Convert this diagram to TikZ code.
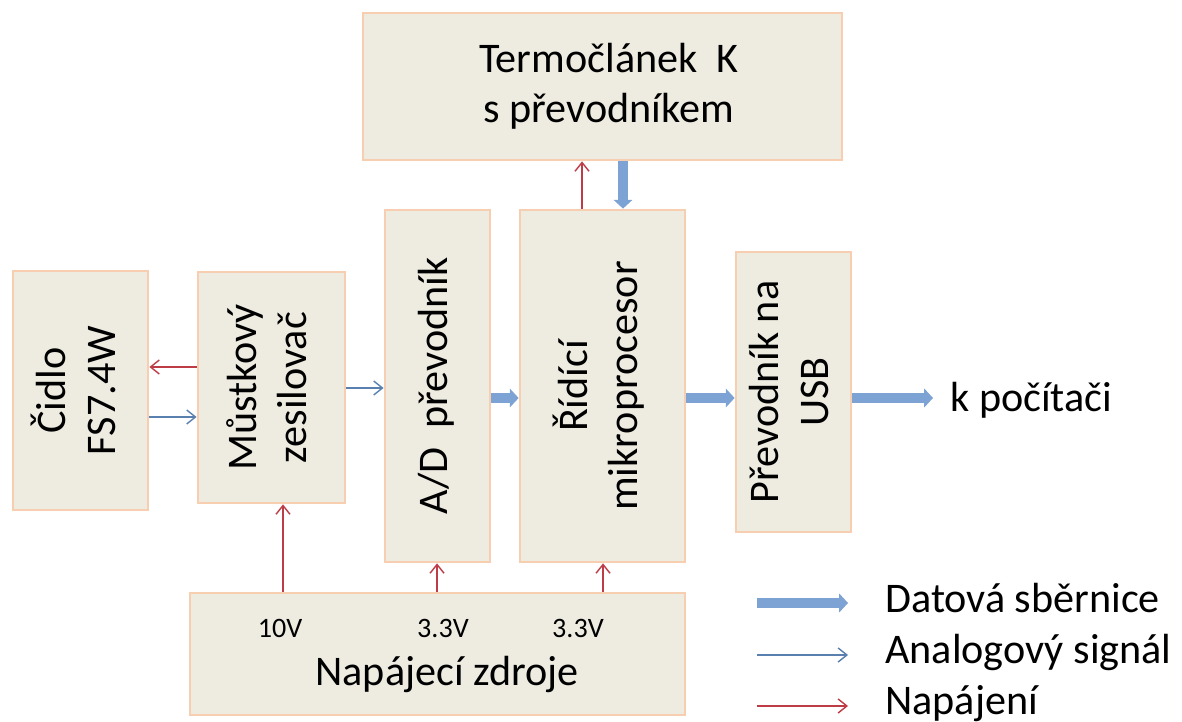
\documentclass[tikz,border=0pt]{standalone}
\usepackage{fontspec}
\setmainfont{Carlito}
\usetikzlibrary{arrows.meta}
\definecolor{blokfill}{RGB}{238,236,225}
\definecolor{blokline}{RGB}{248,206,176}
\definecolor{datacol}{RGB}{125,162,212}
\definecolor{analogcol}{RGB}{90,128,175}
\definecolor{powercol}{RGB}{190,60,70}
\newcommand{\svisle}[1]{\rotatebox{90}{\begin{tabular}{@{}c@{}}#1\end{tabular}}}
\tikzset{
  blok/.style={draw=blokline, fill=blokfill, line width=1.6pt, align=center, inner sep=0pt,
    font=\fontsize{24}{28.5}\selectfont},
  popis/.style={inner sep=0pt, font=\fontsize{24}{28.5}\selectfont},
  napeti/.style={inner sep=0pt, font=\fontsize{16}{19}\selectfont},
  data/.style={draw=datacol, line width=5.5pt, -{Triangle[length=5pt,width=10.5pt]}},
  analog/.style={draw=analogcol, line width=0.8pt, -{Straight Barb[length=5pt,width=8pt]}},
  napajeni/.style={draw=powercol, line width=0.8pt, -{Straight Barb[length=5pt,width=8pt]}}
}
\begin{document}
\begin{tikzpicture}[x=0.02cm, y=-0.02cm]
      \useasboundingbox (0,0) rectangle (1182,722);
      % bloky
      \node[blok, minimum width=9.58cm, minimum height=2.94cm] (termo) at (602.5,86.5) {\hspace*{0.25cm}Termočlánek\ \ K\\\hspace*{0.25cm}s převodníkem};
      \node[blok, minimum width=2.7cm, minimum height=4.78cm] (cidlo) at (80.5,390.5) {\svisle{Čidlo\\FS7.4W}};
      \node[blok, minimum width=2.94cm, minimum height=4.62cm] (mustek) at (271.5,387.5) {\svisle{Můstkový\\zesilovač}};
      \node[blok, minimum width=2.1cm, minimum height=7.04cm] (ad) at (437.5,386) {\svisle{A/D\ \ převodník}};
      \node[blok, minimum width=3.3cm, minimum height=7.04cm] (mcu) at (602.5,386) {\svisle{Řídící\\mikroprocesor}};
      \node[blok, minimum width=2.3cm, minimum height=5.6cm] (usb) at (793.5,392) {\svisle{Převodník na\\USB}};
      \node[blok, minimum width=9.9cm, minimum height=2.44cm] (zdroj) at (437.5,654) {};
      \node[napeti, anchor=base] (u1) at (280,637) {10V};
      \node[napeti, anchor=base] (u2) at (443,637) {3.3V};
      \node[napeti, anchor=base] (u3) at (578,637) {3.3V};
      \node[popis, anchor=base] (zdrojtext) at (447,685) {Napájecí zdroje};
      \node[popis, anchor=base west] (pc) at (950,411) {k počítači};

      % spoje
      \draw[napajeni] (mustek.west |- 0,367) -- (cidlo.east |- 0,367);
      \draw[analog] (cidlo.east |- 0,417) -- (mustek.west |- 0,417);
      \draw[analog] (mustek.east |- 0,388) -- (ad.west |- 0,388);
      \draw[data] (ad.east |- 0,398) -- (mcu.west |- 0,398);
      \draw[data] (mcu.east |- 0,398) -- (usb.west |- 0,398);
      \draw[data] (usb.east |- 0,398) -- ([xshift=-0.34cm]pc.west |- 0,398);
      \draw[data] (termo.south -| 623,0) -- (mcu.north -| 623,0);
      \draw[napajeni] (mcu.north -| 582,0) -- (termo.south -| 582,0);
      \draw[napajeni] (zdroj.north -| 283,0) -- (mustek.south -| 283,0);
      \draw[napajeni] (zdroj.north -| 437,0) -- (ad.south -| 437,0);
      \draw[napajeni] (zdroj.north -| 603,0) -- (mcu.south -| 603,0);

      % legenda
      \node[popis, anchor=base west] (leg1) at (885,612) {Datová sběrnice};
      \node[popis, anchor=base west] (leg2) at (885,663) {Analogový signál};
      \node[popis, anchor=base west] (leg3) at (885,714) {Napájení};
      \coordinate (ls1) at (757,603);
      \coordinate (ls2) at (757,655);
      \coordinate (ls3) at (757,706);
      \draw[data] (ls1) -- ([xshift=-0.74cm]leg1.west |- ls1);
      \draw[analog] (ls2) -- ([xshift=-0.74cm]leg2.west |- ls2);
      \draw[napajeni] (ls3) -- ([xshift=-0.74cm]leg3.west |- ls3);
\end{tikzpicture}
\end{document}
